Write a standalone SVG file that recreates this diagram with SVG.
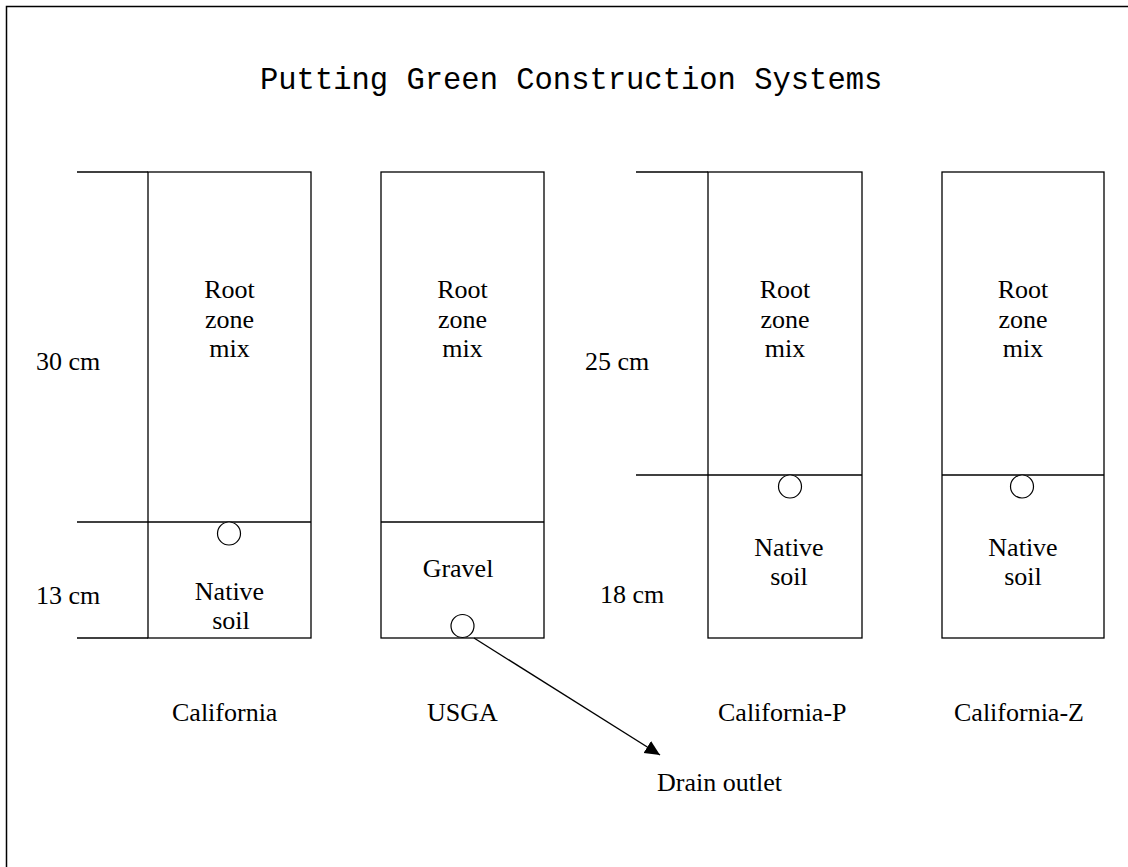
<svg xmlns="http://www.w3.org/2000/svg" width="1128" height="867" viewBox="0 0 1128 867">
  <style>
    .ln { stroke: #000; stroke-width: 1.3; fill: none; }
    .box { stroke: #000; stroke-width: 1.3; fill: #fff; }
    .pipe { stroke: #000; stroke-width: 1.2; fill: #fff; }
    .t { font-family: "Liberation Serif", "Times New Roman", serif; font-size: 26px; fill: #000; }
    .c { text-anchor: middle; }
    .title { font-family: "Liberation Mono", "Courier New", monospace; font-size: 30.5px; fill: #000; }
  </style>
  <defs>
    <marker id="arrow" markerUnits="userSpaceOnUse" markerWidth="16" markerHeight="16" refX="15" refY="7" orient="auto">
      <path d="M0,0 L15,7 L0,14 z" fill="#000"/>
    </marker>
  </defs>
  <rect x="0" y="0" width="1128" height="867" fill="#fff"/>
  <rect id="frame" x="6.5" y="6.5" width="1200" height="1000" fill="none" stroke="#000" stroke-width="1.5"/>

  <text id="title" class="title" x="260" y="89">Putting Green Construction Systems</text>

  <g id="california">
    <line class="ln" x1="77" y1="172" x2="148" y2="172"/>
    <line class="ln" x1="77" y1="522" x2="148" y2="522"/>
    <line class="ln" x1="77" y1="638" x2="148" y2="638"/>
    <rect class="box" x="148" y="172" width="163" height="466"/>
    <line class="ln" x1="148" y1="522" x2="311" y2="522"/>
    <circle class="pipe" cx="229" cy="533.5" r="11.5"/>
    <text class="t c" x="229.5" y="298">Root</text>
    <text class="t c" x="229.5" y="328">zone</text>
    <text class="t c" x="229.5" y="357">mix</text>
    <text class="t c" x="229.5" y="600">Native</text>
    <text class="t c" x="231" y="629">soil</text>
    <text class="t" x="36" y="370">30 cm</text>
    <text class="t" x="36" y="604">13 cm</text>
    <text class="t" x="172" y="721">California</text>
  </g>

  <g id="usga">
    <rect class="box" x="381" y="172" width="163" height="466"/>
    <line class="ln" x1="381" y1="522" x2="544" y2="522"/>
    <circle class="pipe" cx="462.5" cy="626" r="11.5"/>
    <text class="t c" x="462.5" y="298">Root</text>
    <text class="t c" x="462.5" y="328">zone</text>
    <text class="t c" x="462.5" y="357">mix</text>
    <text class="t c" x="458" y="577">Gravel</text>
    <text class="t c" x="462.5" y="721">USGA</text>
  </g>

  <g id="california-p">
    <line class="ln" x1="636" y1="172" x2="708" y2="172"/>
    <line class="ln" x1="636" y1="475" x2="708" y2="475"/>
    <rect class="box" x="708" y="172" width="154" height="466"/>
    <line class="ln" x1="708" y1="475" x2="862" y2="475"/>
    <circle class="pipe" cx="790" cy="486.5" r="11.5"/>
    <text class="t c" x="785" y="298">Root</text>
    <text class="t c" x="785" y="328">zone</text>
    <text class="t c" x="785" y="357">mix</text>
    <text class="t c" x="789" y="556">Native</text>
    <text class="t c" x="789" y="585">soil</text>
    <text class="t" x="585" y="370">25 cm</text>
    <text class="t" x="600" y="603">18 cm</text>
    <text class="t" x="718" y="721">California-P</text>
  </g>

  <g id="california-z">
    <rect class="box" x="942" y="172" width="162" height="466"/>
    <line class="ln" x1="942" y1="475" x2="1104" y2="475"/>
    <circle class="pipe" cx="1022" cy="486.5" r="11.5"/>
    <text class="t c" x="1023" y="298">Root</text>
    <text class="t c" x="1023" y="328">zone</text>
    <text class="t c" x="1023" y="357">mix</text>
    <text class="t c" x="1023" y="556">Native</text>
    <text class="t c" x="1023" y="585">soil</text>
    <text class="t" x="954" y="721">California-Z</text>
  </g>

  <g id="drain-outlet">
    <text class="t" x="657" y="791">Drain outlet</text>
  </g>

  <g id="connectors">
    <line class="ln" x1="474" y1="638" x2="660" y2="755" marker-end="url(#arrow)"/>
  </g>
</svg>
